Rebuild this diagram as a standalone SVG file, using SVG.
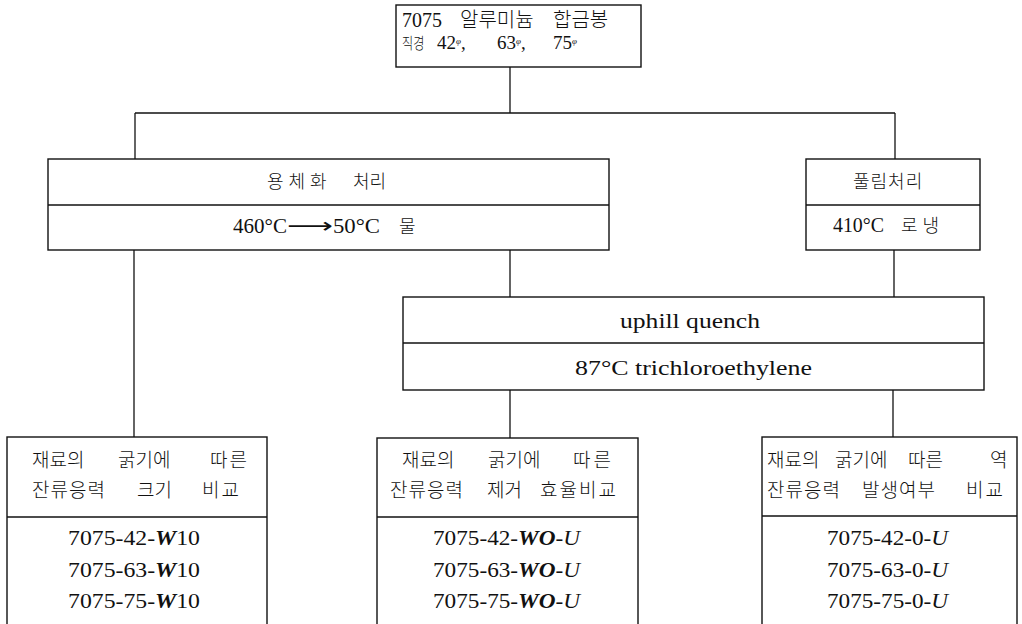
<svg xmlns="http://www.w3.org/2000/svg" width="1022" height="624" viewBox="0 0 1022 624">
<style>
.box{fill:none;stroke:#111;stroke-width:1.4}
.ln{stroke:#111;stroke-width:1.3;fill:none}
text{font-family:"Liberation Serif","Noto Sans CJK KR","DejaVu Sans",serif;fill:#111}
.k{font-family:"Noto Sans CJK KR","Noto Sans CJK SC",sans-serif;font-weight:300}
.bi{font-weight:bold;font-style:italic}
.i{font-style:italic}
</style>
<rect width="1022" height="624" fill="#fff"/>
<g id="connectors">
<line class="ln" x1="510" y1="67" x2="510" y2="113"/>
<line class="ln" x1="135" y1="113" x2="895" y2="113"/>
<line class="ln" x1="135" y1="113" x2="135" y2="159"/>
<line class="ln" x1="895" y1="113" x2="895" y2="159"/>
<line class="ln" x1="134" y1="250" x2="134" y2="437"/>
<line class="ln" x1="510" y1="250" x2="510" y2="297"/>
<line class="ln" x1="894" y1="250" x2="894" y2="297"/>
<line class="ln" x1="510" y1="390" x2="510" y2="438"/>
<line class="ln" x1="893" y1="390" x2="893" y2="437"/>
</g>
<g id="n-top">
<rect class="box" x="396" y="5" width="245" height="62"/>
<text y="27" font-size="20"><tspan x="402">7075 </tspan><tspan class="k" x="460">알루미늄 </tspan><tspan class="k" x="553">합금봉</tspan></text>
<text y="49" font-size="19"><tspan class="k" x="402" font-size="16" textLength="25" lengthAdjust="spacingAndGlyphs">직경 </tspan><tspan x="437">42</tspan><tspan class="i" font-size="9" baseline-shift="5">φ</tspan><tspan>,</tspan><tspan x="497">63</tspan><tspan class="i" font-size="9" baseline-shift="5">φ</tspan><tspan>,</tspan><tspan x="553">75</tspan><tspan class="i" font-size="9" baseline-shift="5">φ</tspan></text>
</g>
<g id="n-solution">
<rect class="box" x="48" y="159" width="561" height="91"/>
<line class="box" x1="48" y1="205" x2="609" y2="205"/>
<text class="k" y="188" font-size="18"><tspan x="267" letter-spacing="5">용체화 </tspan><tspan x="353">처리</tspan></text>
<text y="233" font-size="21"><tspan x="233" textLength="54" lengthAdjust="spacingAndGlyphs">460°C</tspan><tspan x="287" textLength="46" lengthAdjust="spacingAndGlyphs">⟶</tspan><tspan x="333" textLength="47" lengthAdjust="spacingAndGlyphs">50°C</tspan><tspan class="k" x="395" font-size="18"> 물</tspan></text>
</g>
<g id="n-anneal">
<rect class="box" x="806" y="159" width="174" height="91"/>
<line class="box" x1="806" y1="205" x2="980" y2="205"/>
<text class="k" x="853" y="188" font-size="18" letter-spacing="1">풀림처리</text>
<text y="232" font-size="21"><tspan x="833" textLength="51" lengthAdjust="spacingAndGlyphs">410°C</tspan><tspan class="k" x="892" font-size="18" letter-spacing="5"> 로냉</tspan></text>
</g>
<g id="n-uphill">
<rect class="box" x="403" y="297" width="581" height="93"/>
<line class="box" x1="403" y1="343" x2="984" y2="343"/>
<text x="620" y="328" font-size="21" textLength="140" lengthAdjust="spacingAndGlyphs">uphill quench</text>
<text x="575" y="375" font-size="21" textLength="237" lengthAdjust="spacingAndGlyphs">87°C trichloroethylene</text>
</g>
<g id="n-size">
<rect class="box" x="7" y="437" width="260" height="200"/>
<line class="box" x1="7" y1="517" x2="267" y2="517"/>
<text class="k" y="467" font-size="19"><tspan x="32">재료의 </tspan><tspan x="118">굵기에 </tspan><tspan x="210" letter-spacing="2">따른</tspan></text>
<text class="k" y="497" font-size="19"><tspan x="32" letter-spacing="1">잔류응력 </tspan><tspan x="137">크기 </tspan><tspan x="202" letter-spacing="2">비교</tspan></text>
<text x="68" y="545" font-size="21" textLength="132" lengthAdjust="spacingAndGlyphs">7075-42-<tspan class="bi">W</tspan>10</text>
<text x="68" y="577" font-size="21" textLength="132" lengthAdjust="spacingAndGlyphs">7075-63-<tspan class="bi">W</tspan>10</text>
<text x="68" y="608" font-size="21" textLength="132" lengthAdjust="spacingAndGlyphs">7075-75-<tspan class="bi">W</tspan>10</text>
</g>
<g id="n-removal">
<rect class="box" x="377" y="438" width="261" height="200"/>
<line class="box" x1="377" y1="517" x2="638" y2="517"/>
<text class="k" y="467" font-size="19"><tspan x="402">재료의 </tspan><tspan x="488">굵기에 </tspan><tspan x="573" letter-spacing="3">따른</tspan></text>
<text class="k" y="497" font-size="19"><tspan x="390" letter-spacing="1">잔류응력 </tspan><tspan x="487">제거 </tspan><tspan x="540" letter-spacing="2">효율비교</tspan></text>
<text x="433" y="545" font-size="21" textLength="147" lengthAdjust="spacingAndGlyphs">7075-42-<tspan class="bi">WO</tspan>-<tspan class="i">U</tspan></text>
<text x="433" y="577" font-size="21" textLength="147" lengthAdjust="spacingAndGlyphs">7075-63-<tspan class="bi">WO</tspan>-<tspan class="i">U</tspan></text>
<text x="433" y="608" font-size="21" textLength="147" lengthAdjust="spacingAndGlyphs">7075-75-<tspan class="bi">WO</tspan>-<tspan class="i">U</tspan></text>
</g>
<g id="n-reverse">
<rect class="box" x="762" y="437" width="255" height="200"/>
<line class="box" x1="762" y1="516" x2="1017" y2="516"/>
<text class="k" y="467" font-size="19"><tspan x="767">재료의 </tspan><tspan x="835">굵기에 </tspan><tspan x="908">따른 </tspan><tspan x="990">역</tspan></text>
<text class="k" y="497" font-size="19"><tspan x="767" letter-spacing="1">잔류응력 </tspan><tspan x="862" letter-spacing="1">발생여부 </tspan><tspan x="966" letter-spacing="2">비교</tspan></text>
<text x="827" y="545" font-size="21" textLength="121" lengthAdjust="spacingAndGlyphs">7075-42-0-<tspan class="i">U</tspan></text>
<text x="827" y="577" font-size="21" textLength="121" lengthAdjust="spacingAndGlyphs">7075-63-0-<tspan class="i">U</tspan></text>
<text x="827" y="608" font-size="21" textLength="121" lengthAdjust="spacingAndGlyphs">7075-75-0-<tspan class="i">U</tspan></text>
</g>
</svg>
